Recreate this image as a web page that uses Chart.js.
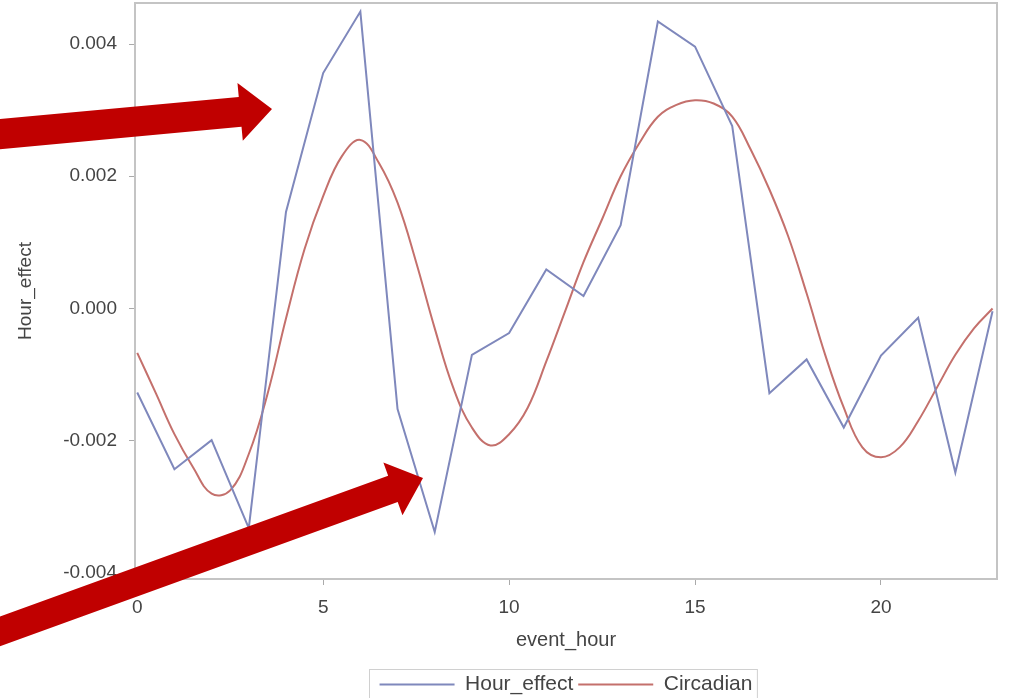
<!DOCTYPE html>
<html>
<head>
<meta charset="utf-8">
<title>Hour_effect vs Circadian</title>
<script src="https://cdn.jsdelivr.net/npm/chart.js@4.4.1/dist/chart.umd.min.js"></script>
<style>
  html, body { margin: 0; padding: 0; background: #fff; }
  #wrap { width: 1010px; height: 698px; position: relative; }
</style>
</head>
<body>
<div id="wrap"><canvas id="chart" width="1010" height="698"></canvas></div>
<script>
// values
var hours = [0, 1, 2, 3, 4, 5, 6, 7, 8, 9, 10, 11, 12, 13, 14, 15, 16, 17, 18, 19, 20, 21, 22, 23];
var hourEffect = [-0.00127, -0.00243, -0.00199, -0.00332, 0.00146, 0.00356, 0.00449, -0.00152, -0.00338, -0.00070,
                  -0.00037, 0.00059, 0.00019, 0.00126, 0.00434, 0.00396, 0.00276, -0.00128, -0.00077, -0.00180,
                  -0.00071, -0.00014, -0.00248, -0.00004];

var circHours = [0, 0.5, 1, 1.5, 2, 2.5, 3, 3.5, 4, 4.5, 5, 5.5, 6, 6.5, 7, 7.5, 8, 8.5, 9, 9.5, 10, 10.5, 11, 11.5,
                 12, 12.5, 13, 13.5, 14, 14.5, 15, 15.5, 16, 16.5, 17, 17.5, 18, 18.5, 19, 19.5, 20, 20.5, 21, 21.5,
                 22, 22.5, 23];
var circadian = [-0.00067, -0.00128, -0.00190, -0.00240, -0.00280, -0.00275, -0.00220, -0.00130, -0.00015, 0.00090,
                 0.00170, 0.00230, 0.00255, 0.00220, 0.00160, 0.00070, -0.00030, -0.00120, -0.00180, -0.00207,
                 -0.00190, -0.00150, -0.00080, -0.00005, 0.00070, 0.00135, 0.00200, 0.00250, 0.00290, 0.00308,
                 0.00315, 0.00310, 0.00290, 0.00240, 0.00180, 0.00110, 0.00023, -0.00070, -0.00150, -0.00210,
                 -0.00225, -0.00210, -0.00170, -0.00120, -0.00070, -0.00030, 0.00000];

var xTicks = [0, 5, 10, 15, 20];
var yTicks = [-0.004, -0.002, 0, 0.002, 0.004];

function pairs(xs, ys) {
  var out = [];
  for (var i = 0; i < xs.length; i++) out.push({x: xs[i], y: ys[i]});
  return out;
}

// box round the plot + legend frame + the red arrows
var framePlugin = {
  id: 'frame',
  afterDraw: function(chart) {
    var ctx = chart.ctx, a = chart.chartArea;
    ctx.save();
    ctx.strokeStyle = '#c4c4c4';
    ctx.lineWidth = 2;
    ctx.strokeRect(a.left, a.top, a.right - a.left, a.bottom - a.top);

    var boxes = chart.legend.legendHitBoxes;
    if (boxes && boxes.length) {
      var l = boxes[0].left, r = boxes[boxes.length - 1].left + boxes[boxes.length - 1].width;
      var t = boxes[0].top, h = boxes[0].height;
      ctx.strokeStyle = '#d0d0d0';
      ctx.lineWidth = 1;
      ctx.strokeRect(Math.round(l) - 10.5, Math.round(t) - 4.5, r - l + 15, h + 20);
    }

    ctx.fillStyle = '#c00000';
    arrow(ctx, -10, 135, 272, 109, 30, 58, 32);
    arrow(ctx, -10, 635, 423, 478, 28, 56, 32);
    ctx.restore();
  }
};

function arrow(ctx, x1, y1, x2, y2, shaft, headW, headL) {
  var len = Math.hypot(x2 - x1, y2 - y1);
  var ang = Math.atan2(y2 - y1, x2 - x1);
  ctx.save();
  ctx.translate(x1, y1);
  ctx.rotate(ang);
  ctx.beginPath();
  ctx.moveTo(0, -shaft / 2);
  ctx.lineTo(len - headL, -shaft / 2);
  ctx.lineTo(len - headL, -headW / 2);
  ctx.lineTo(len, 0);
  ctx.lineTo(len - headL, headW / 2);
  ctx.lineTo(len - headL, shaft / 2);
  ctx.lineTo(0, shaft / 2);
  ctx.closePath();
  ctx.fill();
  ctx.restore();
}

Chart.defaults.font.family = '"Liberation Sans", Arial, sans-serif';
Chart.defaults.color = '#444';

new Chart(document.getElementById('chart'), {
  type: 'line',
  data: {
    datasets: [{
      label: 'Hour_effect',
      data: pairs(hours, hourEffect),
      borderColor: '#7f88bc',
      backgroundColor: '#7f88bc',
      borderWidth: 2,
      pointRadius: 0,
      tension: 0
    }, {
      label: 'Circadian',
      data: pairs(circHours, circadian),
      borderColor: '#c4706c',
      backgroundColor: '#c4706c',
      borderWidth: 2,
      pointRadius: 0,
      tension: 0.4
    }]
  },
  options: {
    responsive: false,
    animation: false,
    events: [],
    layout: { padding: { left: 0, right: 13, top: 3, bottom: -7 } },
    plugins: {
      tooltip: { enabled: false },
      legend: {
        position: 'bottom',
        fullSize: false,
        labels: {
          usePointStyle: true,
          pointStyle: 'line',
          pointStyleWidth: 75,
          font: { size: 21 },
          color: '#444',
          padding: 5
        }
      }
    },
    scales: {
      x: {
        type: 'linear',
        min: -0.06,
        max: 23.12,
        afterBuildTicks: function(s) { s.ticks = xTicks.map(function(v) { return {value: v}; }); },
        afterFit: function(s) { s.height = 90; s.paddingLeft = 0; s.paddingRight = 0; },
        grid: { display: true, drawOnChartArea: false, tickLength: 6, color: '#aaa' },
        border: { display: false },
        ticks: { font: { size: 19 }, color: '#444', padding: 11, maxRotation: 0 },
        title: { display: true, text: 'event_hour', font: { size: 20 }, color: '#444', padding: { top: 0, bottom: 17 } }
      },
      y: {
        min: -0.00409,
        max: 0.00462,
        afterBuildTicks: function(s) { s.ticks = yTicks.map(function(v) { return {value: v}; }); },
        afterFit: function(s) { s.width = 135; s.paddingTop = 0; s.paddingBottom = 0; },
        grid: { display: true, drawOnChartArea: false, tickLength: 6, color: '#aaa' },
        border: { display: false },
        ticks: {
          font: { size: 19 }, color: '#444', padding: 12,
          callback: function(v) { return Math.abs(v) < 1e-9 ? '0.000' : v.toFixed(3); }
        },
        title: { display: true, text: 'Hour_effect', font: { size: 19 }, color: '#444', padding: { top: 14, bottom: 0 } }
      }
    }
  },
  plugins: [framePlugin]
});
</script>
</body>
</html>
